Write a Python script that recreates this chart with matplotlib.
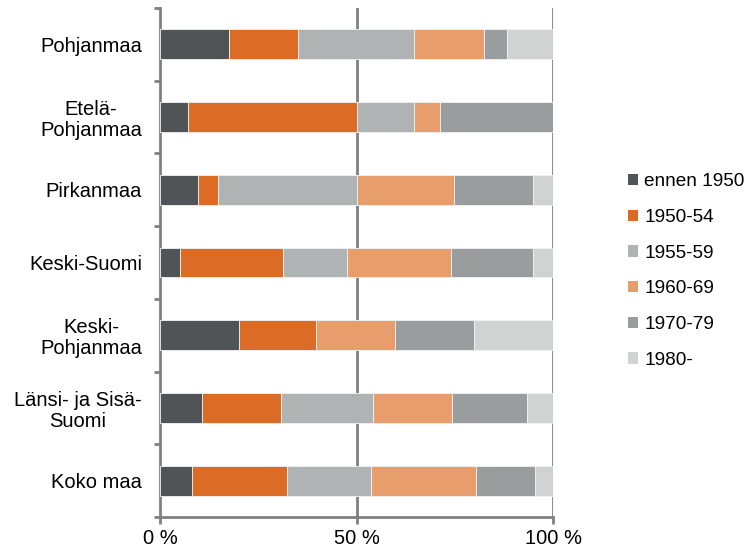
import matplotlib
matplotlib.use("Agg")
import matplotlib.pyplot as plt
from matplotlib.patches import Patch
import numpy as np

plt.rcParams['font.family'] = ['Liberation Sans', 'DejaVu Sans']

categories = ["Pohjanmaa", "Etelä-\nPohjanmaa", "Pirkanmaa", "Keski-Suomi",
              "Keski-\nPohjanmaa", "Länsi- ja Sisä-\nSuomi", "Koko maa"]
series_names = ["ennen 1950", "1950-54", "1955-59", "1960-69", "1970-79", "1980-"]
ennen_1950 = [17.5, 7.2, 9.7, 5.1, 20.2, 10.8, 8.2]
s1950_54 = [17.6, 42.8, 5.1, 26.3, 19.5, 20.0, 24.2]
s1955_59 = [29.4, 14.5, 35.2, 16.1, 0.0, 23.4, 21.2]
s1960_69 = [18.0, 6.7, 24.8, 26.4, 20.1, 20.1, 26.8]
s1970_79 = [5.7, 28.8, 20.0, 21.0, 20.0, 19.0, 14.9]
s1980 = [11.8, 0.0, 5.2, 5.2, 20.2, 6.7, 4.7]
xtick_labels = ["0 %", "50 %", "100 %"]

colors = ["#505457", "#DB6B25", "#B0B3B3", "#E79E6C", "#9A9D9D", "#D1D3D2"]
series = [ennen_1950, s1950_54, s1955_59, s1960_69, s1970_79, s1980]

fig = plt.figure(figsize=(7.52, 5.53), dpi=100)
ax = fig.add_axes([160/752, 1-517/553, (553.3-160)/752, (517-8)/553])

y = np.arange(len(categories))
left = np.zeros(len(categories))
for vals, col in zip(series, colors):
    v = np.array(vals)
    ax.barh(y, v, left=left, height=0.41, color=col, edgecolor='#f2f2f2',
            linewidth=0.6, zorder=3)
    left += v

ax.set_xlim(0, 100)
ax.set_ylim(len(categories)-0.5, -0.5)
for xv in [50, 100]:
    ax.axvline(xv, color='#808080', lw=2, zorder=1)

ax.set_yticks(y)
ax.set_yticklabels(categories, fontsize=14.5, ha='right', multialignment='center',
                   linespacing=1.15)
ax.tick_params(axis='y', which='major', length=0, pad=13)
ax.set_yticks(np.arange(-0.5, len(categories)), minor=True)
ax.tick_params(axis='y', which='minor', length=4, width=2, color='#808080')

ax.set_xticks([0, 50, 100])
ax.set_xticklabels(xtick_labels, fontsize=14.5)
ax.tick_params(axis='x', length=5, width=2, color='#808080', pad=4)

for s in ['top', 'right']:
    ax.spines[s].set_visible(False)
for s in ['left', 'bottom']:
    ax.spines[s].set_color('#808080')
    ax.spines[s].set_linewidth(2)

handles = [Patch(facecolor=c, edgecolor='none') for c in colors]
fig.legend(handles, series_names, loc='center left', bbox_to_anchor=(628/752, 1-271/553),
           frameon=False, fontsize=13.7, handlelength=0.55, handleheight=0.55,
           handletextpad=0.3, labelspacing=0.98, borderpad=0, borderaxespad=0)

fig.savefig("out.png", dpi=100)
